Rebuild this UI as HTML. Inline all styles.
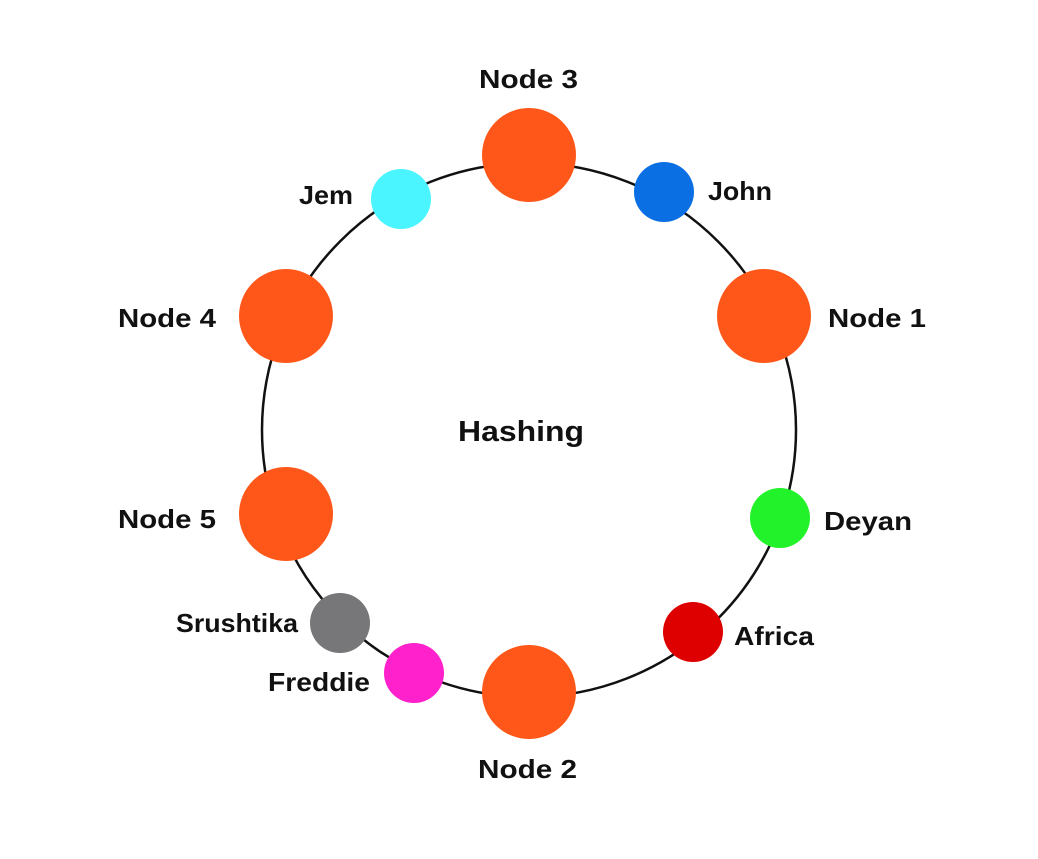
<!DOCTYPE html>
<html><head><meta charset="utf-8"><style>
html,body{margin:0;padding:0;background:#fff;}
svg text{font-family:"Liberation Sans",sans-serif;font-weight:bold;font-size:26px;fill:#111;}
</style></head><body>
<svg width="1038" height="854" viewBox="0 0 1038 854" xmlns="http://www.w3.org/2000/svg">
<rect width="1038" height="854" fill="#fff"/>
<circle cx="529" cy="430" r="267" fill="none" stroke="#111" stroke-width="2.5"/>
<g fill="#FE5719">
<circle cx="529" cy="155" r="47"/>
<circle cx="764" cy="316" r="47"/>
<circle cx="286" cy="316" r="47"/>
<circle cx="286" cy="514" r="47"/>
<circle cx="529" cy="692" r="47"/>
</g>
<circle cx="401" cy="199" r="30" fill="#4AF5FF"/>
<circle cx="664" cy="192" r="30" fill="#0A6FE2"/>
<circle cx="780" cy="518" r="30" fill="#22F22A"/>
<circle cx="693" cy="632" r="30" fill="#DE0000"/>
<circle cx="340" cy="623" r="30" fill="#77777A"/>
<circle cx="414" cy="673" r="30" fill="#FF22CC"/>
<text x="479" y="88" textLength="99" lengthAdjust="spacingAndGlyphs">Node 3</text>
<text x="828" y="327" textLength="98" lengthAdjust="spacingAndGlyphs">Node 1</text>
<text x="118" y="327" textLength="98" lengthAdjust="spacingAndGlyphs">Node 4</text>
<text x="118" y="528" textLength="98" lengthAdjust="spacingAndGlyphs">Node 5</text>
<text x="478" y="778" textLength="99" lengthAdjust="spacingAndGlyphs">Node 2</text>
<text x="299" y="204" textLength="54" lengthAdjust="spacingAndGlyphs">Jem</text>
<text x="708" y="200" textLength="64" lengthAdjust="spacingAndGlyphs">John</text>
<text x="824" y="530" textLength="88" lengthAdjust="spacingAndGlyphs">Deyan</text>
<text x="734" y="645" textLength="80" lengthAdjust="spacingAndGlyphs">Africa</text>
<text x="176" y="632" textLength="122" lengthAdjust="spacingAndGlyphs">Srushtika</text>
<text x="268" y="691" textLength="102" lengthAdjust="spacingAndGlyphs">Freddie</text>
<text x="458" y="441" textLength="126" lengthAdjust="spacingAndGlyphs" style="font-size:29px">Hashing</text>
</svg>
</body></html>
